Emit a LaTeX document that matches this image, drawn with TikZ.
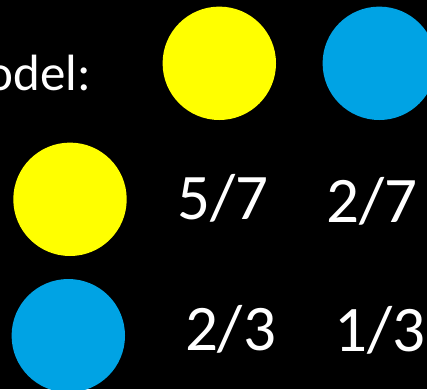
\documentclass[tikz,border=0pt]{standalone}
\usepackage{fontspec}
\setmainfont{Carlito}
\definecolor{dotyellow}{HTML}{FFFF00}
\definecolor{dotblue}{HTML}{00A3E4}
\begin{document}
\begin{tikzpicture}[x=1pt,y=-1pt,
  dot/.style={circle,inner sep=0pt,minimum size=113.4pt,draw=none},
  frac/.style={text=white,font=\fontsize{65}{78}\selectfont,inner sep=0pt,anchor=base},
  lbl/.style={text=white,font=\fontsize{51}{61}\selectfont,inner sep=0pt,anchor=base east}]
\fill[black] (0,0) rectangle (427,389);
\useasboundingbox (0,0) rectangle (427,389);
\node[lbl] (model) at (91,90.7) {Model:};
\node[dot,fill=dotyellow] (ty) at (219.3,63.3) {};
\node[dot,fill=dotblue] (tb) at (379.3,63.3) {};
\node[dot,fill=dotyellow] (my) at (70,199.3) {};
\node[dot,fill=dotblue] (bb) at (68.3,335.7) {};
\node[frac] (f57) at (223.3,219.3) {5/7};
\node[frac] (f27) at (371.7,222.3) {2/7};
\node[frac] (f23) at (230.5,350.7) {2/3};
\node[frac] (f13) at (380.3,351.5) {1/3};
\end{tikzpicture}
\end{document}
